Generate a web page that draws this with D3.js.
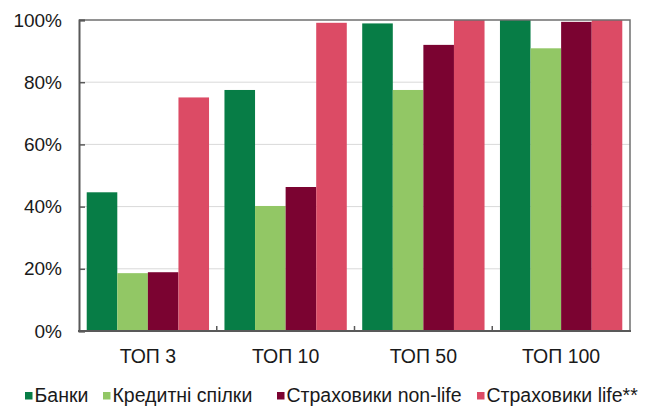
<!DOCTYPE html>
<html>
<head>
<meta charset="utf-8">
<script src="https://cdn.jsdelivr.net/npm/d3@7"></script>
<style>
  html, body { margin: 0; padding: 0; background: #fff; }
  svg { display: block; font-family: "Liberation Sans", Arial, sans-serif; }
</style>
</head>
<body>
<svg id="chart" width="647" height="407"></svg>
<script>
// Concentration by market share of the largest institutions
const categories = ["ТОП 3", "ТОП 10", "ТОП 50", "ТОП 100"];
const seriesNames = ["Банки", "Кредитні спілки", "Страховики non-life", "Страховики life**"];
const banks = [44.6, 77.5, 98.9, 100];
const creditUnions = [18.6, 40.2, 77.5, 90.9];
const insurersNonLife = [18.9, 46.3, 92.0, 99.4];
const insurersLife = [75.1, 99.1, 100, 100];
const yTicks = [0, 20, 40, 60, 80, 100];
const colors = ["#077d46", "#92c765", "#7b0331", "#dc4b65"];

const series = [banks, creditUnions, insurersNonLife, insurersLife];

const svg = d3.select("#chart");
const margin = { left: 79, right: 17, top: 20, bottom: 76 };
const W = 647, H = 407;
const plotW = W - margin.left - margin.right;
const plotH = H - margin.top - margin.bottom;

const g = svg.append("g").attr("transform", `translate(${margin.left},${margin.top})`);

const x0 = d3.scaleBand().domain(categories).range([0, plotW]).paddingInner(0.112).paddingOuter(0.056);
const x1 = d3.scaleBand().domain(d3.range(series.length)).range([0, x0.bandwidth()]);
const y = d3.scaleLinear().domain([0, 100]).range([plotH, 0]);

// gridlines
g.append("g").selectAll("line")
  .data(yTicks.filter(t => t > 0 && t < 100))
  .join("line")
  .attr("x1", 0).attr("x2", plotW)
  .attr("y1", d => y(d)).attr("y2", d => y(d))
  .attr("stroke", "#d9d9d9").attr("stroke-width", 1);

// bars
const groups = g.append("g").selectAll("g")
  .data(categories)
  .join("g")
  .attr("transform", d => `translate(${x0(d)},0)`);

groups.selectAll("rect")
  .data((c, i) => series.map((s, k) => ({ k, v: s[i] })))
  .join("rect")
  .attr("x", d => x1(d.k))
  .attr("width", x1.bandwidth())
  .attr("y", d => y(d.v))
  .attr("height", d => y(0) - y(d.v))
  .attr("fill", d => colors[d.k]);

// frame: top and right border
g.append("path")
  .attr("d", `M0,0H${plotW}V${plotH}`)
  .attr("fill", "none").attr("stroke", "#6f6f6f").attr("stroke-width", 1.5);

// y axis
const yAxis = g.append("g")
  .call(d3.axisRight(y).tickValues(yTicks).tickSize(6).tickFormat(""));
yAxis.select(".domain").attr("stroke", "#595959").attr("stroke-width", 2);
yAxis.selectAll(".tick line").attr("stroke", "#595959").attr("stroke-width", 1.5);

g.append("g").selectAll("text")
  .data(yTicks)
  .join("text")
  .attr("x", -17)
  .attr("y", d => y(d))
  .attr("dy", "0.35em")
  .attr("text-anchor", "end")
  .attr("font-size", 19)
  .attr("fill", "#1a1a1a")
  .text(d => d + "%");

// x axis
const boundaries = categories.slice(1).map(c => x0(c) - x0.step() * x0.paddingInner() / 2);
g.append("line")
  .attr("x1", -1).attr("x2", plotW + 1)
  .attr("y1", plotH).attr("y2", plotH)
  .attr("stroke", "#595959").attr("stroke-width", 2);
g.append("g").selectAll("line")
  .data(boundaries)
  .join("line")
  .attr("x1", d => d).attr("x2", d => d)
  .attr("y1", plotH).attr("y2", plotH - 5)
  .attr("stroke", "#595959").attr("stroke-width", 1.5);

g.append("g").selectAll("text")
  .data(categories)
  .join("text")
  .attr("x", d => x0(d) + x0.bandwidth() / 2)
  .attr("y", plotH + 32)
  .attr("text-anchor", "middle")
  .attr("font-size", 19.5)
  .attr("fill", "#1a1a1a")
  .text(d => d);

// legend
const legendX = [25, 103, 277, 477];
const legend = svg.append("g").selectAll("g")
  .data(seriesNames)
  .join("g")
  .attr("transform", (d, i) => `translate(${legendX[i]},392)`);
legend.append("rect")
  .attr("width", 7.5).attr("height", 7.5)
  .attr("fill", (d, i) => colors[i]);
legend.append("text")
  .attr("x", 9.5).attr("y", 9.5)
  .attr("font-size", 19.5)
  .attr("fill", "#1a1a1a")
  .text(d => d);
</script>
</body>
</html>
